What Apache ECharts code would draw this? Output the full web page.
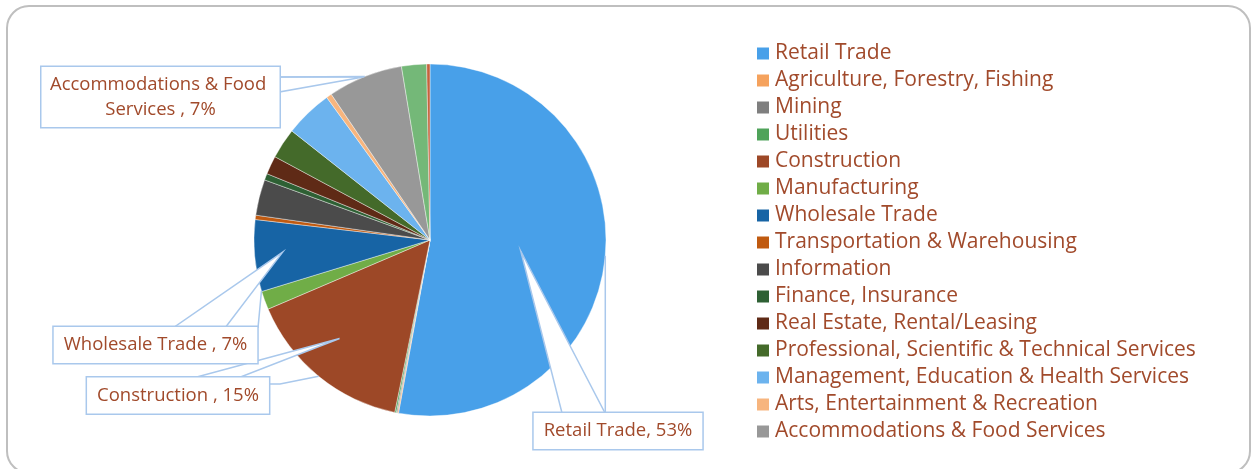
<!DOCTYPE html>
<html>
<head>
<meta charset="utf-8">
<style>
  html, body { margin: 0; padding: 0; background: #ffffff; }
  #chart { width: 1252px; height: 469px; }
</style>
<script src="https://cdn.jsdelivr.net/npm/echarts@6/dist/echarts.min.js"></script>
</head>
<body>
<div id="chart"></div>
<script>
// Share of businesses by industry (percent). Names keep the trailing spaces
// they carry in the source table, which show up in the callout text.
const categories = [
  'Retail Trade',
  'Agriculture, Forestry, Fishing',
  'Mining',
  'Utilities',
  'Construction ',
  'Manufacturing',
  'Wholesale Trade ',
  'Transportation & Warehousing',
  'Information',
  'Finance, Insurance',
  'Real Estate, Rental/Leasing',
  'Professional, Scientific & Technical Services',
  'Management, Education & Health Services',
  'Arts, Entertainment & Recreation',
  'Accommodations & Food Services ',
  'Other Services',
  'Unclassified'
];
const shares = [53.0, 0.1, 0.1, 0.15, 15.4, 1.7, 6.6, 0.4, 3.3, 0.6, 1.7, 2.8, 4.4, 0.5, 6.9, 2.3, 0.3];
const sliceColors = [
  '#48A0E9', '#F5A25D', '#7F7F7F', '#4FA35A', '#9D4827', '#70AD47',
  '#1764A5', '#C05A10', '#4B4B4B', '#2E6034', '#5F2A16', '#446A2A',
  '#6CB3EE', '#F7B57E', '#989898', '#74B878', '#C5633D'
];
// Only the first fifteen entries fit in the legend column.
const legendNames = categories.slice(0, 15);

const TEXT = '#A14A2B';
const CALLOUT_LINE = '#A9C8EC';
const FONT = 'Open Sans';
const CENTER = [430, 240];
const RADIUS = 176;

// Angular extent of every slice, clockwise from 12 o'clock, in degrees.
const total = shares.reduce((a, b) => a + b, 0);
let acc = 0;
const extents = shares.map(v => {
  const start = acc / total * 360;
  acc += v;
  return [start, acc / total * 360];
});
function polar(angle, r) {
  const a = angle * Math.PI / 180;
  return [CENTER[0] + r * Math.sin(a), CENTER[1] - r * Math.cos(a)];
}
function sliceAngle(i, t) {
  const [s, e] = extents[i];
  return s + (e - s) * t;
}

// Callout boxes: box centre, wedge tip (fraction across slice, fraction of radius),
// wedge base on the box edge, leader line start (fraction across slice) and its bends.
const callouts = {
  0:  { box: [618, 431],   tip: [0.51, 0.52], base: [[562, 413], [605, 413]], lead: 0.5,  bends: pt => [[pt[0], 413], [pt[0], 413]] },
  4:  { box: [178, 395.5], tip: [0.56, 0.76], base: [[193, 378], [238, 378]], lead: 0.5,  bends: () => [[280, 384], [269, 384]] },
  6:  { box: [155.5, 345], tip: [0.52, 0.84], base: [[173, 328], [225, 328]], lead: 0.01, bends: () => [[258, 328], [258, 328]] },
  14: { box: [160.5, 97],  tip: [0.48, 1.0],  base: [[279, 77], [279, 92]],   lead: 0.5,  bends: () => [[279, 77], [279, 77]] }
};

const wedges = Object.keys(callouts).map(k => {
  const i = +k, c = callouts[k];
  const tipPt = polar(sliceAngle(i, c.tip[0]), RADIUS * c.tip[1]);
  return {
    type: 'polygon',
    z: 3,
    silent: true,
    shape: { points: [tipPt, c.base[0], c.base[1]] },
    style: { fill: '#ffffff', stroke: CALLOUT_LINE, lineWidth: 1.5 }
  };
});

const labelBase = {
  color: TEXT,
  fontFamily: FONT,
  fontSize: 18.5,
  lineHeight: 20,
  backgroundColor: '#ffffff',
  borderColor: CALLOUT_LINE,
  borderWidth: 1.5,
  padding: [8, 10],
  formatter: p => p.name + ', ' + Math.round(p.percent) + '%'
};

const chart = echarts.init(document.getElementById('chart'), null, { renderer: 'canvas' });
chart.setOption({
  animation: false,
  backgroundColor: '#ffffff',
  color: sliceColors,
  graphic: [
    {
      type: 'rect',
      z: 0,
      silent: true,
      shape: { x: 7, y: 6, width: 1243, height: 467, r: 22 },
      style: { fill: 'none', stroke: '#BFBFBF', lineWidth: 2 }
    }
  ].concat(wedges),
  legend: {
    data: legendNames,
    orient: 'vertical',
    left: 755,
    top: 40,
    padding: 0,
    itemWidth: 14,
    itemHeight: 14,
    itemGap: 0,
    icon: 'rect',
    selectedMode: false,
    textStyle: { color: TEXT, fontFamily: FONT, fontSize: 21, lineHeight: 27, height: 27 }
  },
  series: [
    {
      type: 'pie',
      z: 2,
      center: CENTER,
      radius: RADIUS,
      startAngle: 90,
      clockwise: true,
      silent: true,
      label: { show: false },
      labelLine: { show: false },
      itemStyle: { borderColor: '#ffffff', borderWidth: 0.4 },
      emphasis: { disabled: true },
      data: categories.map((n, i) => ({ name: n, value: shares[i] }))
    },
    {
      // transparent copy of the pie that carries the callout labels above the wedges
      type: 'pie',
      z: 4,
      center: CENTER,
      radius: RADIUS,
      startAngle: 90,
      clockwise: true,
      silent: true,
      avoidLabelOverlap: false,
      itemStyle: { color: 'rgba(0,0,0,0)', borderWidth: 0 },
      emphasis: { disabled: true },
      label: { show: false },
      labelLine: { show: false },
      labelLayout: function (params) {
        const c = callouts[params.dataIndex];
        if (!c) return {};
        const start = polar(sliceAngle(params.dataIndex, c.lead), RADIUS);
        const b = c.bends(start);
        return {
          x: c.box[0],
          y: c.box[1],
          align: 'center',
          verticalAlign: 'middle',
          labelLinePoints: [start, b[0], b[1]]
        };
      },
      data: categories.map((n, i) => {
        const c = callouts[i];
        const item = { name: n, value: shares[i] };
        if (c) {
          item.label = Object.assign({ show: true, position: 'outside' }, labelBase,
            i === 14 ? { width: 222, overflow: 'break', lineHeight: 25, padding: [5, 8], align: 'center' } : {});
          item.labelLine = { show: true, lineStyle: { color: CALLOUT_LINE, width: 1.5 } };
        }
        return item;
      })
    }
  ]
});
</script>
</body>
</html>
